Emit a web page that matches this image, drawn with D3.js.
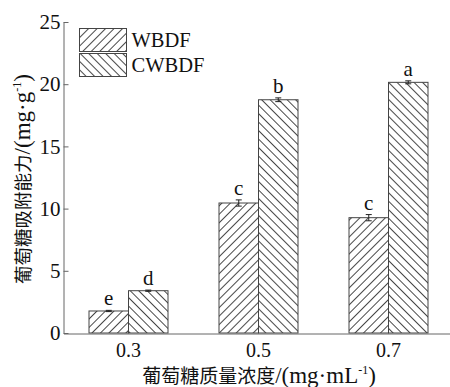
<!DOCTYPE html>
<html>
<head>
<meta charset="utf-8">
<script src="https://cdn.jsdelivr.net/npm/d3@7"></script>
<style>
  body { margin: 0; background: #fff; }
  svg { display: block; }
  text { font-family: 'Liberation Serif', 'Noto Sans CJK SC', serif; fill: #111; }
</style>
</head>
<body>
<div id="graf"></div>
<script>
// datos
categorias = ['0.3', '0.5', '0.7']
series = ['WBDF', 'CWBDF']
wbdf = [1.77, 10.45, 9.27]
cwbdf = [3.4, 18.75, 20.15]
wbdfErr = [0.05, 0.25, 0.25]
cwbdfErr = [0.05, 0.15, 0.12]
wbdfLetra = ['e', 'c', 'c']
cwbdfLetra = ['d', 'b', 'a']
yTicks = [0, 5, 10, 15, 20, 25]

ancho_total = 450
alto_total = 387

svg = d3.select('#graf').append('svg')
  .attr('width', ancho_total)
  .attr('height', alto_total)

// patrones de rayado
defs = svg.append('defs')
function rayado(id, ang) {
  p = defs.append('pattern')
    .attr('id', id)
    .attr('patternUnits', 'userSpaceOnUse')
    .attr('width', 6)
    .attr('height', 6)
    .attr('patternTransform', `rotate(${ang})`)
  p.append('rect').attr('width', 6).attr('height', 6).attr('fill', '#fff')
  p.append('line')
    .attr('x1', 0.5).attr('y1', 0).attr('x2', 0.5).attr('y2', 6)
    .attr('stroke', '#333').attr('stroke-width', 0.9)
}
rayado('h-WBDF', 45)
rayado('h-CWBDF', -45)

// escalas
y = d3.scaleLinear().domain([0, 25]).range([333, 22])
x = d3.scaleBand().domain(categorias).range([63.5, 453.5]).paddingInner(0).paddingOuter(0)
x1 = d3.scaleBand().domain(series).range([25.5, 104.5])

datos = []
categorias.forEach((c, i) => {
  datos.push({ cat: c, serie: 'WBDF', v: wbdf[i], err: wbdfErr[i], letra: wbdfLetra[i] })
  datos.push({ cat: c, serie: 'CWBDF', v: cwbdf[i], err: cwbdfErr[i], letra: cwbdfLetra[i] })
})

g = svg.append('g')

// barras
g.selectAll('rect.barra')
  .data(datos)
  .enter()
  .append('rect')
    .attr('class', 'barra')
    .attr('x', d => x(d.cat) + x1(d.serie))
    .attr('y', d => y(d.v))
    .attr('width', x1.bandwidth())
    .attr('height', d => y(0) - y(d.v))
    .attr('fill', d => `url(#h-${d.serie})`)
    .attr('stroke', '#444')
    .attr('stroke-width', 1)

// barras de error
err = g.selectAll('g.err')
  .data(datos)
  .enter()
  .append('g')
    .attr('class', 'err')
    .attr('stroke', '#222')
    .attr('stroke-width', 1)
cx = d => x(d.cat) + x1(d.serie) + x1.bandwidth() / 2
err.append('line')
  .attr('x1', cx).attr('x2', cx)
  .attr('y1', d => y(d.v + d.err)).attr('y2', d => y(d.v - d.err))
err.append('line')
  .attr('x1', d => cx(d) - 3).attr('x2', d => cx(d) + 3)
  .attr('y1', d => y(d.v + d.err)).attr('y2', d => y(d.v + d.err))
err.append('line')
  .attr('x1', d => cx(d) - 3).attr('x2', d => cx(d) + 3)
  .attr('y1', d => y(d.v - d.err)).attr('y2', d => y(d.v - d.err))

// letras de significancia
g.selectAll('text.letra')
  .data(datos)
  .enter()
  .append('text')
    .attr('class', 'letra')
    .attr('x', cx)
    .attr('y', d => y(d.v + d.err) - 5)
    .attr('text-anchor', 'middle')
    .style('font-size', '21px')
    .text(d => d.letra)

// ejes
yAxisGroup = svg.append('g').attr('transform', 'translate(63.5, 0)')
yAxisGroup.call(d3.axisLeft(y).tickValues(yTicks).tickSizeInner(-5).tickSizeOuter(0).tickPadding(3))
yAxisGroup.selectAll('path, line').attr('stroke', '#666')
yAxisGroup.selectAll('text').style('font-size', '21px').attr('fill', '#111')
  .style('font-family', "'Liberation Serif', serif")

xAxisGroup = svg.append('g').attr('transform', 'translate(0, 333.5)')
xAxisGroup.call(d3.axisBottom(x).tickSize(0).tickPadding(9))
xAxisGroup.select('path').attr('stroke', '#666')
xAxisGroup.selectAll('text').style('font-size', '20px').attr('fill', '#111')
  .style('font-family', "'Liberation Serif', serif")
  .attr('dy', '0.71em')

// títulos de ejes
yl = svg.append('text')
  .attr('transform', 'translate(30, 179) rotate(-90)')
  .attr('text-anchor', 'middle')
  .style('font-size', '18.5px')
yl.append('tspan').text('葡萄糖吸附能力')
yl.append('tspan').text('/(mg·g').style('font-size', '23px')
yl.append('tspan').text('-1').style('font-size', '12px').attr('dy', -9)
yl.append('tspan').text(')').style('font-size', '23px').attr('dy', 9)

xl = svg.append('text')
  .attr('x', 259)
  .attr('y', 383)
  .attr('text-anchor', 'middle')
  .style('font-size', '19px')
xl.append('tspan').text('葡萄糖质量浓度')
xl.append('tspan').text('/(mg·mL').style('font-size', '23px')
xl.append('tspan').text('-1').style('font-size', '12px').attr('dy', -9)
xl.append('tspan').text(')').style('font-size', '23px').attr('dy', 9)

// leyenda
ley = svg.append('g').selectAll('g')
  .data(series)
  .enter()
  .append('g')
    .attr('transform', (d, i) => `translate(79.5, ${28.5 + i * 25})`)
ley.append('rect')
  .attr('width', 47)
  .attr('height', 23)
  .attr('fill', d => `url(#h-${d})`)
  .attr('stroke', '#444')
ley.append('text')
  .attr('x', 52)
  .attr('y', 18.5)
  .style('font-size', '20.5px')
  .text(d => d)
</script>
</body>
</html>
